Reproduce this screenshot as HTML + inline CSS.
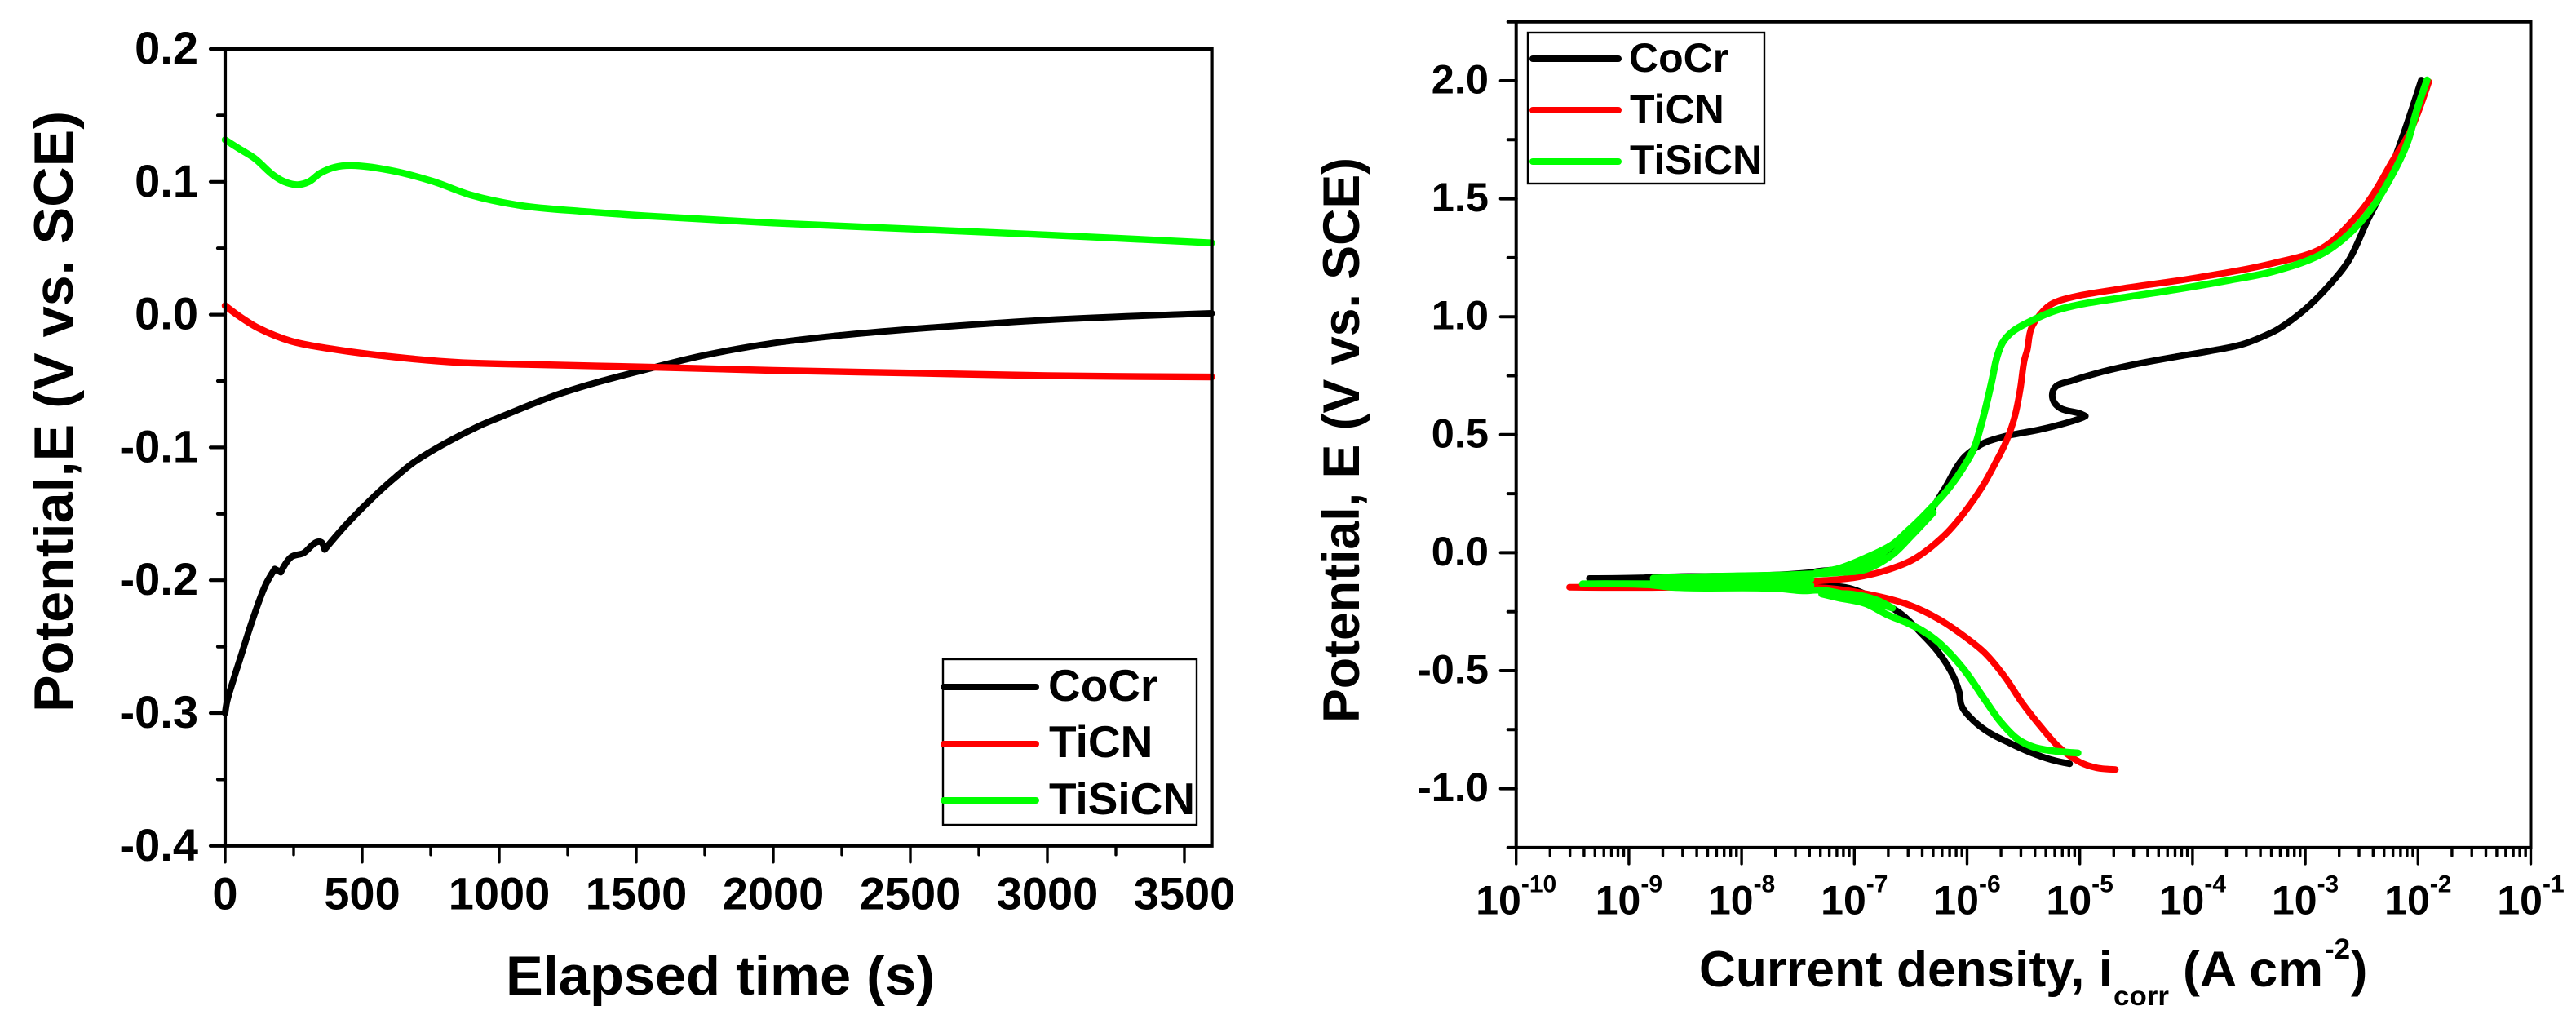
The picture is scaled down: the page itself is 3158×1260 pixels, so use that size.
<!DOCTYPE html>
<html lang="en">
<head>
<meta charset="utf-8">
<title>Potential vs time and polarization curves</title>
<style>
html,body{margin:0;padding:0;background:#fff;}
svg{display:block;}
text{font-family:"Liberation Sans",Arial,sans-serif;font-weight:bold;fill:#000;}
</style>
</head>
<body>
<svg id="figure" xmlns="http://www.w3.org/2000/svg" width="3158" height="1260" viewBox="0 0 3158 1260">
  <rect x="0" y="0" width="3158" height="1260" fill="#fff"/>

  <g id="chartA"></g>
  <g id="chartB"></g>

  <text transform="translate(89,873) rotate(-90)" font-size="68" textLength="737" lengthAdjust="spacingAndGlyphs">Potential,E (V vs. SCE)</text>
  <text x="620" y="1219" font-size="68" textLength="526" lengthAdjust="spacingAndGlyphs">Elapsed time (s)</text>

  <g>
    <rect x="1156" y="808" width="311" height="203" fill="#fff" stroke="#000" stroke-width="2.4"/>
    <line x1="1157" x2="1270" y1="842" y2="842" stroke="#000" stroke-width="8" stroke-linecap="round"/>
    <line x1="1157" x2="1270" y1="912" y2="912" stroke="#f00" stroke-width="8" stroke-linecap="round"/>
    <line x1="1157" x2="1270" y1="981" y2="981" stroke="#0f0" stroke-width="8" stroke-linecap="round"/>
    <text x="1285" y="859" font-size="55">CoCr</text>
    <text x="1286" y="928" font-size="55">TiCN</text>
    <text x="1286" y="998" font-size="55" textLength="179" lengthAdjust="spacingAndGlyphs">TiSiCN</text>
  </g>

  <text transform="translate(1666,886) rotate(-90)" font-size="63" textLength="693" lengthAdjust="spacingAndGlyphs">Potential, E (V vs. SCE)</text>
  <g>
    <text x="2083" y="1209" font-size="62" textLength="507" lengthAdjust="spacingAndGlyphs">Current density, i</text>
    <text x="2591" y="1232" font-size="33" textLength="68" lengthAdjust="spacingAndGlyphs">corr</text>
    <text x="2676" y="1209" font-size="61" textLength="172" lengthAdjust="spacingAndGlyphs">(A cm</text>
    <text x="2850" y="1175" font-size="35">-2</text>
    <text x="2882" y="1209" font-size="61">)</text>
  </g>

  <g>
    <rect x="1873" y="40" width="290" height="185" fill="#fff" stroke="#000" stroke-width="2.4"/>
    <line x1="1879" x2="1984" y1="72" y2="72" stroke="#000" stroke-width="8" stroke-linecap="round"/>
    <line x1="1879" x2="1984" y1="135" y2="135" stroke="#f00" stroke-width="8" stroke-linecap="round"/>
    <line x1="1879" x2="1984" y1="198" y2="198" stroke="#0f0" stroke-width="8" stroke-linecap="round"/>
    <text x="1997" y="88" font-size="50">CoCr</text>
    <text x="1998" y="151" font-size="50">TiCN</text>
    <text x="1998" y="213" font-size="50" textLength="162" lengthAdjust="spacingAndGlyphs">TiSiCN</text>
  </g>
</svg>

<script>
/* ---------- left chart: open-circuit potential ---------- */
const timeTicks = [0, 500, 1000, 1500, 2000, 2500, 3000, 3500];
const timeTickLabels = ['0', '500', '1000', '1500', '2000', '2500', '3000', '3500'];
const timeMinorTicks = [250, 750, 1250, 1750, 2250, 2750, 3250];
const potentialTicks = [0.2, 0.1, 0.0, -0.1, -0.2, -0.3, -0.4];
const potentialTickLabels = ['0.2', '0.1', '0.0', '-0.1', '-0.2', '-0.3', '-0.4'];
const potentialMinorTicks = [0.15, 0.05, -0.05, -0.15, -0.25, -0.35];

const timeCoCr = [0, 6, 30, 52, 105, 150, 181, 203, 241, 287, 333, 351, 363, 439, 545, 621, 697, 925, 1000, 1229, 1560, 1750, 2000, 2250, 2500, 3000, 3600];
const potentialCoCr = [-0.300, -0.292, -0.275, -0.2607, -0.2267, -0.2024, -0.1915, -0.194, -0.1825, -0.1794, -0.1714, -0.1714, -0.1769, -0.1587, -0.1366, -0.1225, -0.110, -0.084, -0.0775, -0.059, -0.040, -0.0305, -0.0215, -0.0155, -0.011, -0.004, 0.001];

const timeTiCN = [0, 50, 120, 241, 393, 621, 849, 1153, 1560, 2000, 2500, 3000, 3600];
const potentialTiCN = [0.0067, -0.001, -0.010, -0.020, -0.026, -0.032, -0.036, -0.0377, -0.0396, -0.042, -0.044, -0.046, -0.047];

const timeTiSiCN = [0, 50, 105, 181, 225, 265, 305, 348, 400, 461, 606, 758, 894, 1076, 1305, 1560, 2000, 2500, 3000, 3600];
const potentialTiSiCN = [0.1316, 0.1250, 0.118, 0.1042, 0.0993, 0.0978, 0.1, 0.1066, 0.111, 0.1123, 0.1085, 0.1003, 0.0902, 0.0822, 0.0777, 0.074, 0.069, 0.0645, 0.060, 0.054];

/* ---------- right chart: polarization curves (current as log10 exponent) ---------- */
const currentExponentTicks = [-10, -9, -8, -7, -6, -5, -4, -3, -2, -1];
const currentMinorFactors = [2, 3, 4, 5, 6, 7, 8, 9];
const electrodeTicks = [2.0, 1.5, 1.0, 0.5, 0.0, -0.5, -1.0];
const electrodeTickLabels = ['2.0', '1.5', '1.0', '0.5', '0.0', '-0.5', '-1.0'];
const electrodeMinorTicks = [2.25, 1.75, 1.25, 0.75, 0.25, -0.25, -0.75, -1.25];

const logCurrentCoCr = [-5.09, -5.257, -5.441, -5.626, -5.81, -5.958, -6.05, -6.069, -6.124, -6.253, -6.40, -6.585, -6.807, -7.05, -7.25, -8.35, -9.351, -8.893, -8.8, -7.386, -7.337, -7.0, -6.7, -6.445, -6.204, -6.035, -5.915, -5.84, -5.673, -5.36, -5.12, -4.974, -4.95, -5.0, -5.168, -5.227, -5.244, -5.215, -5.07, -4.83, -4.515, -4.153, -3.864, -3.55, -3.334, -3.25, -3.005, -2.796, -2.62, -2.445, -2.34, -2.2, -2.096, -1.97];
const potentialCurveCoCr = [-0.895, -0.877, -0.846, -0.806, -0.761, -0.705, -0.648, -0.592, -0.521, -0.423, -0.345, -0.260, -0.197, -0.150, -0.140, -0.130, -0.1092, -0.107, -0.1046, -0.084, -0.080, -0.060, 0.000, 0.095, 0.268, 0.400, 0.447, 0.467, 0.492, 0.521, 0.550, 0.573, 0.579, 0.590, 0.611, 0.637, 0.673, 0.703, 0.729, 0.763, 0.798, 0.830, 0.853, 0.884, 0.925, 0.945, 1.030, 1.129, 1.234, 1.411, 1.510, 1.679, 1.820, 2.003];

const logCurrentTiCN = [-4.684, -4.85, -5.0, -5.183, -5.33, -5.515, -5.663, -5.847, -6.032, -6.253, -6.512, -6.807, -7.25, -8.6, -9.527, -8.6, -7.289, -6.99, -6.733, -6.475, -6.204, -6.035, -5.866, -5.745, -5.65, -5.576, -5.528, -5.49, -5.468, -5.432, -5.36, -5.261, -5.104, -4.684, -3.985, -3.285, -2.849, -2.586, -2.41, -2.237, -2.063, -1.904];
const potentialCurveTiCN = [-0.919, -0.912, -0.888, -0.825, -0.747, -0.634, -0.528, -0.423, -0.352, -0.281, -0.222, -0.183, -0.150, -0.1462, -0.1462, -0.1462, -0.1185, -0.105, -0.077, -0.028, 0.072, 0.164, 0.279, 0.383, 0.475, 0.579, 0.694, 0.821, 0.855, 0.949, 1.005, 1.051, 1.079, 1.115, 1.164, 1.227, 1.291, 1.404, 1.510, 1.651, 1.792, 1.996];

const logCurrentTiSiCN = [-5.017, -5.183, -5.404, -5.552, -5.70, -5.847, -6.032, -6.253, -6.40, -6.54, -6.71, -6.903, -7.144, -7.289, -7.0, -6.807, -6.662, -7.289, -7.458, -7.675, -8.616, -8.833, -9.412, -8.797, -7.386, -8.784, -7.386, -8.784, -8.17, -7.506, -7.144, -6.903, -6.662, -6.494, -6.30, -6.494, -6.662, -6.903, -7.337, -7.144, -6.903, -6.662, -6.494, -6.324, -6.18, -6.035, -5.94, -5.88, -5.83, -5.78, -5.733, -5.685, -5.60, -5.432, -5.24, -5.0, -4.636, -4.153, -3.67, -3.285, -2.865, -2.62, -2.41, -2.237, -2.096, -2.01, -1.92];
const potentialCurveTiSiCN = [-0.849, -0.843, -0.825, -0.790, -0.719, -0.620, -0.493, -0.380, -0.330, -0.296, -0.2625, -0.2153, -0.1911, -0.175, -0.1773, -0.2003, -0.2349, -0.1588, -0.1611, -0.1519, -0.1461, -0.1357, -0.1323, -0.1323, -0.138, -0.1219, -0.1127, -0.1081, -0.100, -0.0931, -0.0839, -0.0712, -0.0078, 0.0716, 0.170, 0.106, 0.0315, -0.0459, -0.0839, -0.0678, -0.0228, 0.035, 0.106, 0.187, 0.262, 0.360, 0.441, 0.533, 0.625, 0.729, 0.832, 0.890, 0.936, 0.982, 1.022, 1.052, 1.080, 1.115, 1.155, 1.192, 1.263, 1.347, 1.460, 1.594, 1.735, 1.877, 2.003];

/* ---------- axis functions ---------- */
function xTime(t) { return 276 + t * 0.336; }
function yPotential(v) { return 385.6 - v * 1628; }
function xCurrent(e) { return 1858.7 + (e + 10) * 138.2; }
function yElectrode(v) { return 677.4 - v * 289.2; }

const NS = 'http://www.w3.org/2000/svg';
function make(parent, tag, props) {
  const el = document.createElementNS(NS, tag);
  for (const k in props) el.setAttribute(k, props[k]);
  parent.appendChild(el);
  return el;
}

function smoothPath(pts) {
  let d = 'M' + pts[0][0].toFixed(1) + ' ' + pts[0][1].toFixed(1);
  function tangent(i) {
    const a = pts[Math.max(0, i - 1)], b = pts[i], c = pts[Math.min(pts.length - 1, i + 1)];
    const ux = b[0] - a[0], uy = b[1] - a[1], vx = c[0] - b[0], vy = c[1] - b[1];
    const lu = Math.hypot(ux, uy), lv = Math.hypot(vx, vy);
    if (lu === 0 || lv === 0) return null;
    if ((ux * vx + uy * vy) / (lu * lv) < 0.2) return null;
    const tx = ux / lu + vx / lv, ty = uy / lu + vy / lv, l = Math.hypot(tx, ty);
    return [tx / l, ty / l];
  }
  for (let i = 0; i < pts.length - 1; i++) {
    const p = pts[i], q = pts[i + 1], s = Math.hypot(q[0] - p[0], q[1] - p[1]) / 3;
    const t0 = tangent(i), t1 = tangent(i + 1);
    const c1 = t0 ? [p[0] + t0[0] * s, p[1] + t0[1] * s] : p;
    const c2 = t1 ? [q[0] - t1[0] * s, q[1] - t1[1] * s] : q;
    d += 'C' + c1[0].toFixed(1) + ' ' + c1[1].toFixed(1) + ' ' + c2[0].toFixed(1) + ' ' + c2[1].toFixed(1) + ' ' + q[0].toFixed(1) + ' ' + q[1].toFixed(1);
  }
  return d;
}

function drawSeries(parent, xs, ys, fx, fy, color, width) {
  const pts = xs.map(function (x, i) { return [fx(x), fy(ys[i])]; });
  return make(parent, 'path', { d: smoothPath(pts), fill: 'none', stroke: color, 'stroke-width': width, 'stroke-linejoin': 'round', 'stroke-linecap': 'round' });
}

function drawLine(parent, x1, y1, x2, y2, w, cap) {
  return make(parent, 'line', { x1: x1, y1: y1, x2: x2, y2: y2, stroke: '#000', 'stroke-width': w, 'stroke-linecap': cap });
}

/* ---------- left chart drawing ---------- */
const chartA = document.getElementById('chartA');

const seriesA1 = drawSeries(chartA, timeCoCr, potentialCoCr, xTime, yPotential, '#000', 8);


const seriesA2 = drawSeries(chartA, timeTiCN, potentialTiCN, xTime, yPotential, '#f00', 8.4);


const seriesA3 = drawSeries(chartA, timeTiSiCN, potentialTiSiCN, xTime, yPotential, '#0f0', 8.4);



const frameA = make(chartA, 'path', { d: 'M' + xTime(0) + ' ' + yPotential(-0.4) + 'V' + yPotential(0.2) + 'H' + xTime(3600) + 'V' + yPotential(-0.4) + 'Z', fill: 'none', stroke: '#000', 'stroke-width': 4.2, 'stroke-linejoin': 'miter' });



timeTicks.forEach(function (t, i) {
  const tick = drawLine(chartA, xTime(t), yPotential(-0.4), xTime(t), yPotential(-0.4) + 20, 3.4, 'round');
  
  
  const label = make(chartA, 'text', { x: xTime(t), y: 1114.5, 'font-size': 56, 'text-anchor': 'middle' });
  label.textContent = timeTickLabels[i];
  
  
});
timeMinorTicks.forEach(function (t) {
  const tick = drawLine(chartA, xTime(t), yPotential(-0.4), xTime(t), yPotential(-0.4) + 11, 3.4, 'round');
  
  
});
potentialTicks.forEach(function (v, i) {
  const tick = drawLine(chartA, xTime(0), yPotential(v), xTime(0) - 18, yPotential(v), 4.2, 'round');
  
  
  const label = make(chartA, 'text', { x: 243, y: yPotential(v) + 18, 'font-size': 56, 'text-anchor': 'end' });
  label.textContent = potentialTickLabels[i];
  
  
});
potentialMinorTicks.forEach(function (v) {
  const tick = drawLine(chartA, xTime(0), yPotential(v), xTime(0) - 9, yPotential(v), 4.2, 'round');
  
  
});

/* ---------- right chart drawing ---------- */
const chartB = document.getElementById('chartB');

const seriesB1 = drawSeries(chartB, logCurrentCoCr, potentialCurveCoCr, xCurrent, yElectrode, '#000', 8);


const seriesB2 = drawSeries(chartB, logCurrentTiCN, potentialCurveTiCN, xCurrent, yElectrode, '#f00', 8);


const seriesB3 = drawSeries(chartB, logCurrentTiSiCN, potentialCurveTiSiCN, xCurrent, yElectrode, '#0f0', 8.6);



const frameB = make(chartB, 'path', { d: 'M' + xCurrent(-10) + ' ' + yElectrode(-1.25) + 'V' + yElectrode(2.25) + 'H' + xCurrent(-1) + 'V' + yElectrode(-1.25) + 'Z', fill: 'none', stroke: '#000', 'stroke-width': 4, 'stroke-linejoin': 'miter' });



currentExponentTicks.forEach(function (e) {
  const tick = drawLine(chartB, xCurrent(e), yElectrode(-1.25), xCurrent(e), yElectrode(-1.25) + 20, 3.4, 'round');
  
  
  const label = make(chartB, 'text', { x: xCurrent(e), y: 1120.5, 'font-size': 50, 'text-anchor': 'middle' });
  label.textContent = '10';
  
  
  const sup = make(label, 'tspan', { dy: -27, 'font-size': 30 });
  sup.textContent = String(e);
  
  
  if (e < -1) {
    currentMinorFactors.forEach(function (f) {
      const minor = drawLine(chartB, xCurrent(e + Math.log10(f)), yElectrode(-1.25), xCurrent(e + Math.log10(f)), yElectrode(-1.25) + 10, 3.4, 'round');
      
      
    });
  }
});
electrodeTicks.forEach(function (v, i) {
  const tick = drawLine(chartB, xCurrent(-10), yElectrode(v), xCurrent(-10) - 19, yElectrode(v), 4, 'round');
  
  
  const label = make(chartB, 'text', { x: 1825, y: yElectrode(v) + 15.5, 'font-size': 50.5, 'text-anchor': 'end' });
  label.textContent = electrodeTickLabels[i];
  
  
});
electrodeMinorTicks.forEach(function (v) {
  const tick = drawLine(chartB, xCurrent(-10), yElectrode(v), xCurrent(-10) - 10, yElectrode(v), 4, 'round');
  
  
});
</script>
</body>
</html>
